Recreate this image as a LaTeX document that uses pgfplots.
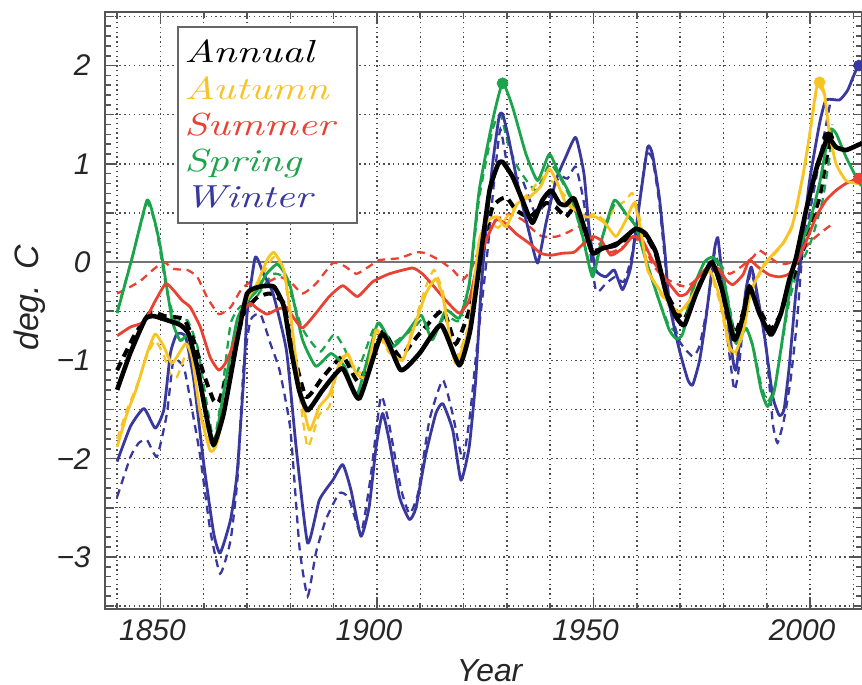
\documentclass[border=0pt]{standalone}
\usepackage{pgfplots}
\pgfplotsset{compat=1.18}
\usepackage{fontspec}
\newfontfamily\tickfont{Liberation Sans}
\newfontfamily\legfont{lmroman10-italic}[Extension=.otf, FakeStretch=1.3]

\definecolor{cAut}{RGB}{248,196,36}
\definecolor{cSum}{RGB}{234,66,50}
\definecolor{cSpr}{RGB}{28,164,76}
\definecolor{cWin}{RGB}{56,56,158}
\definecolor{frame}{RGB}{85,85,85}

\pgfplotsset{
  solidc/.style={line width=1.4bp, line join=round, smooth, tension=0.3},
  dashc/.style={line width=1.15bp, dash pattern=on 4bp off 2.8bp, smooth, tension=0.3},
}

\begin{document}
\begin{tikzpicture}
\useasboundingbox (-52.5bp,-38bp) rectangle (378.5bp,304.5bp);
\begin{axis}[
  at={(0,0)}, anchor=south west,
  scale only axis, width=378.5bp, height=298.5bp,
  xmin=1837.2, xmax=2012, ymin=-3.53, ymax=2.545,
  axis line style={draw=frame, line width=1bp},
  tick style={draw=frame, line width=0.8bp},
  major tick length=6bp, minor tick length=3bp,
  xtick={1850,1900,1950,2000},
  xticklabels={1850,1900,1950,2000},
  minor xtick={1840,1860,1870,1880,1890,1910,1920,1930,1940,1960,1970,1980,1990,2010},
  ytick={-3,-2,-1,0,1,2},
  yticklabels={−3,−2,−1,0,1,2},
  minor ytick={-3.5,-3.4,...,2.5},
  extra y ticks={-3.5,-2.5,-1.5,-0.5,0.5,1.5,2.5},
  extra y tick labels={},
  extra y tick style={grid=major, major tick length=4.5bp},
  xmajorgrids, xminorgrids, ymajorgrids,
  major grid style={draw=black!70, line width=0.7bp, dash pattern=on 0.7bp off 1.7bp},
  minor grid style={draw=black!70, line width=0.7bp, dash pattern=on 0.7bp off 1.7bp},
  tick label style={font=\tickfont\itshape\fontsize{15}{15}\selectfont, inner sep=0pt, text=black!85},
  xticklabel style={anchor=base, yshift=-15.5bp, xshift=-4bp},
  yticklabel style={anchor=east, xshift=-7bp},
  xlabel={Year}, ylabel={deg.\hspace{0.45em}C},
  every axis x label/.style={at={(axis description cs:0.508,0)}, anchor=base, yshift=-36bp,
    font=\tickfont\itshape\fontsize{16}{16}\selectfont, text=black!85},
  every axis y label/.style={at={(axis description cs:-0.0885,0.521)}, rotate=90, anchor=base,
    font=\tickfont\itshape\fontsize{17}{17}\selectfont, text=black!85},
]

% reference line at zero
\addplot[draw=black!55, line width=1.1bp, forget plot] coordinates {(1837.2,0) (2012,0)};

% ---------- second estimate (dashed) ----------
\addplot[cWin, dashc] coordinates {
(1840,-2.39)(1843.1,-1.98)(1845,-1.84)(1846.9,-1.81)(1849.2,-1.98)(1851.5,-1.54)(1853,-1.0)(1855.4,-1.07)(1857.3,-1.50)(1859.2,-1.98)(1861.5,-2.73)(1863.8,-3.17)(1866.2,-2.83)(1867.8,-2.20)(1869.2,-1.07)(1870.8,-0.59)(1873.1,-0.53)(1875.4,-0.83)(1877.5,-1.10)(1880,-1.70)(1882.1,-2.90)(1884,-3.40)(1885.9,-2.96)(1888.2,-2.62)(1891.3,-2.35)(1893.5,-2.40)(1896.3,-2.76)(1898.5,-2.20)(1900.9,-1.37)(1902.8,-1.65)(1905.5,-2.30)(1907.5,-2.56)(1909.5,-2.35)(1912.1,-1.61)(1915.2,-1.20)(1917.5,-1.55)(1919.8,-2.01)(1921.5,-1.55)(1923,-0.9)(1925.5,0.1)(1927,0.8)(1928.5,1.35)(1930.5,0.90)(1933.6,0.83)(1936.5,0.50)(1939,0.60)(1942.1,0.87)(1944,0.85)(1945.9,0.97)(1947.8,0.60)(1950.5,-0.28)(1952.8,-0.22)(1955,-0.15)(1957,-0.20)(1959,0.10)(1962.1,1.07)(1963.6,1.05)(1965.2,0.60)(1967.5,-0.40)(1969.8,-0.80)(1972.9,-0.96)(1974.5,-0.85)(1976.5,-0.40)(1978,0.10)(1979.5,-0.20)(1981,-0.80)(1982.5,-1.30)(1983.5,-1.10)(1985.2,-0.35)(1986.4,-0.10)(1987.8,-0.35)(1989.8,-0.85)(1991.4,-1.64)(1992.5,-1.84)(1994,-1.60)(1995.5,-1.20)(1997,-0.60)(1998.3,0.12)(2000.6,0.66)(2002.9,1.21)(2004.8,1.65)};
\addplot[cSpr, dashc] coordinates {
(1840,-0.50)(1843.5,0.05)(1846.9,0.60)(1849,0.35)(1851.5,-0.30)(1853.5,-0.60)(1856.2,-0.59)(1858.5,-0.85)(1860,-1.25)(1862.3,-1.81)(1864,-1.40)(1866.2,-0.63)(1868.5,-0.45)(1870.8,-0.45)(1873,-0.30)(1876,-0.12)(1878.5,-0.15)(1880,-0.30)(1882.5,-0.65)(1884.4,-0.79)(1887,-0.91)(1890.2,-0.73)(1892.5,-0.88)(1895.2,-1.13)(1899,-0.70)(1900.5,-0.63)(1903.6,-0.82)(1906,-0.75)(1908.2,-0.69)(1910.5,-0.58)(1912.8,-0.72)(1915.9,-0.55)(1919,-0.60)(1921.3,-0.25)(1923.6,0.65)(1926.7,1.35)(1928.5,1.50)(1930.5,1.17)(1932.8,0.94)(1936.7,0.73)(1939.8,1.0)(1942,0.88)(1945.2,0.60)(1947.5,0.25)(1949.8,-0.10)(1952,0.25)(1955,0.60)(1957.5,0.50)(1959.8,0.38)(1962.1,0.02)(1965.2,-0.40)(1967.5,-0.65)(1969.5,-0.72)(1971,-0.68)(1973,-0.28)(1975.6,0.00)(1977.5,0.04)(1979.5,-0.08)(1981.4,-0.45)(1982.9,-0.78)(1985.2,-0.68)(1986.8,-0.85)(1988.7,-1.25)(1990.2,-1.42)(1991.8,-1.28)(1993.7,-0.78)(1995.2,-0.40)(1997,-0.10)(1999.1,0.09)(2000.6,0.26)(2002.9,0.63)(2004.5,1.07)(2005.2,1.40)};
\addplot[cSum, dashc] coordinates {
(1840,-0.32)(1843.1,-0.25)(1845.4,-0.19)(1848.5,-0.07)(1850.8,0.00)(1853.1,-0.07)(1856.2,-0.08)(1858.5,-0.15)(1860.8,-0.36)(1863.5,-0.53)(1866.2,-0.46)(1868.5,-0.29)(1870.8,-0.20)(1873,-0.24)(1875.4,-0.19)(1877.5,-0.15)(1880,-0.20)(1882.8,-0.32)(1885.9,-0.22)(1889.8,-0.01)(1892.5,-0.04)(1895.2,-0.12)(1898,-0.05)(1900.5,0.02)(1905.2,0.04)(1909,0.10)(1911.3,0.09)(1914.4,0.02)(1917.5,-0.08)(1919.8,-0.18)(1922,-0.05)(1925.2,0.33)(1927.5,0.43)(1930.5,0.49)(1933.6,0.43)(1936,0.33)(1938.2,0.26)(1941.5,0.26)(1944.4,0.31)(1946.7,0.36)(1949,0.25)(1951.5,0.18)(1954,0.10)(1957,0.16)(1959,0.25)(1961.5,0.18)(1963.6,-0.02)(1966,-0.15)(1969.1,-0.22)(1971.5,-0.25)(1974.5,-0.15)(1977.5,0.02)(1979,-0.02)(1981.4,-0.12)(1984,-0.05)(1986.8,0.05)(1988.3,0.12)(1990.6,0.05)(1993,-0.02)(1995.2,-0.01)(1997,0.05)(1999.1,0.16)(2001.4,0.26)(2003.7,0.34)(2005.2,0.39)};
\addplot[cAut, dashc] coordinates {
(1840,-1.80)(1842.3,-1.50)(1844.6,-1.25)(1846.9,-0.95)(1848.8,-0.80)(1850.8,-0.95)(1852.3,-1.14)(1853.8,-1.17)(1855.8,-0.95)(1857.3,-1.05)(1859.2,-1.50)(1861.5,-1.85)(1863,-1.80)(1866,-1.20)(1869.2,-0.50)(1872.3,-0.25)(1874.6,-0.05)(1876.2,0.05)(1878.5,-0.12)(1880,-0.55)(1882.1,-1.35)(1884,-1.88)(1886.7,-1.55)(1889,-1.47)(1891.3,-1.00)(1893.2,-0.95)(1895.2,-1.10)(1897.5,-1.12)(1899.8,-0.72)(1902.8,-0.92)(1905.9,-0.98)(1908.6,-0.62)(1911.3,-0.25)(1913.2,-0.08)(1915.2,-0.30)(1916.7,-0.70)(1918.2,-0.98)(1921.3,-0.62)(1923.6,0.20)(1926,0.40)(1928,0.35)(1930.5,0.49)(1933,0.63)(1935.2,0.70)(1938.2,0.87)(1941,0.80)(1943.6,0.66)(1946.7,0.46)(1950.5,0.49)(1952.8,0.42)(1955,0.55)(1957.5,0.63)(1959,0.70)(1960.9,0.40)(1962.5,-0.05)(1965.2,-0.30)(1967.5,-0.45)(1969.8,-0.55)(1972,-0.42)(1974.5,-0.20)(1976.8,-0.10)(1979.1,-0.40)(1981.4,-0.90)(1982.9,-0.95)(1984.8,-0.68)(1986,-0.38)(1987.5,-0.20)(1989.8,-0.02)(1993.7,0.18)(1996,0.37)(1998.3,0.85)(1999.8,1.25)(2001.4,1.72)(2002.2,1.78)(2003.3,1.70)(2004.5,1.30)};
\addplot[black, dashc, line width=2bp, dash pattern=on 4.5bp off 3bp] coordinates {
(1840,-1.10)(1843.8,-0.76)(1847.7,-0.51)(1851,-0.55)(1855.4,-0.58)(1857.7,-0.80)(1860,-1.14)(1862.3,-1.41)(1863.5,-1.42)(1866.2,-1.03)(1869.2,-0.53)(1872.3,-0.36)(1875.4,-0.32)(1878.5,-0.42)(1880,-0.79)(1883.6,-1.37)(1887.5,-1.17)(1892.1,-0.96)(1895.9,-1.22)(1901.3,-0.71)(1905.2,-0.96)(1909.8,-0.73)(1915.2,-0.49)(1918.2,-0.83)(1921.3,-0.49)(1923.5,0.00)(1926.7,0.56)(1929.8,0.66)(1932.1,0.53)(1935.2,0.46)(1939,0.60)(1941.3,0.56)(1943.6,0.46)(1945.5,0.55)(1947.8,0.36)(1949.8,0.12)(1953,0.15)(1957,0.22)(1960,0.28)(1962,0.27)(1964.4,0.08)(1966.8,-0.30)(1969.1,-0.50)(1971,-0.58)(1973.7,-0.30)(1977.2,-0.02)(1979.5,-0.25)(1982.5,-0.72)(1984.5,-0.52)(1986,-0.25)(1988.3,-0.48)(1991,-0.68)(1993.3,-0.52)(1995.2,-0.25)(1997.5,-0.01)(1999.8,0.33)(2002.2,0.66)(2003.7,1.04)(2004.8,1.24)};

% ---------- main estimate (solid) ----------
\addplot[cWin, solidc] coordinates {
(1840,-2.03)(1843.1,-1.67)(1846.2,-1.49)(1848.8,-1.69)(1850.8,-1.50)(1852.3,-0.93)(1853.8,-0.73)(1855.8,-0.76)(1857.7,-1.20)(1860,-2.05)(1862.3,-2.76)(1863.8,-2.96)(1866.2,-2.62)(1867.7,-2.15)(1869.2,-1.20)(1870,-0.53)(1871.9,0.05)(1873.8,-0.12)(1876,-0.32)(1879.1,-0.90)(1881.4,-1.91)(1884,-2.86)(1886.7,-2.42)(1889.8,-2.22)(1892.1,-2.06)(1894,-2.32)(1896.3,-2.79)(1898.2,-2.49)(1899.8,-1.88)(1901.3,-1.54)(1902.8,-1.81)(1905.2,-2.39)(1907.5,-2.62)(1909,-2.50)(1911.3,-1.95)(1913.6,-1.54)(1915.2,-1.44)(1917.5,-1.71)(1919.4,-2.22)(1921.3,-1.88)(1922.8,-1.20)(1924,-0.30)(1925.2,0.33)(1926.7,1.00)(1928.2,1.48)(1929,1.51)(1930.5,1.24)(1932.8,0.73)(1935.2,0.29)(1937.1,-0.01)(1939,0.39)(1941.3,0.83)(1943.6,1.07)(1945.9,1.27)(1947.8,0.90)(1949,0.33)(1950.5,-0.08)(1952.8,-0.15)(1954.8,-0.08)(1956.7,-0.28)(1958.6,-0.05)(1960.5,0.56)(1962.5,1.17)(1963.6,1.10)(1965.2,0.66)(1966.5,0.10)(1967.5,-0.42)(1969.8,-0.89)(1971.8,-1.20)(1972.9,-1.25)(1974.5,-1.00)(1976,-0.56)(1977.9,0.12)(1978.7,0.25)(1979.5,-0.05)(1980.6,-0.39)(1982.2,-1.00)(1982.9,-1.10)(1983.8,-0.80)(1985.2,-0.28)(1986.4,-0.05)(1987.5,-0.25)(1989.5,-0.76)(1991.4,-1.37)(1992.9,-1.56)(1994,-1.50)(1995.2,-1.06)(1996.8,-0.28)(1997.9,0.05)(1999.8,0.80)(2002.2,1.41)(2003.7,1.65)(2006.8,1.65)(2008.7,1.75)(2010.6,1.95)(2012,2.00)};
\addplot[cSpr, solidc] coordinates {
(1840,-0.52)(1843.5,0.05)(1846.9,0.63)(1848.5,0.45)(1850,0.15)(1852.7,-0.59)(1854.6,-0.80)(1856.5,-0.73)(1858,-0.95)(1860,-1.45)(1862.3,-1.88)(1864.5,-1.35)(1867.7,-0.59)(1870,-0.40)(1872.3,-0.29)(1874.5,-0.12)(1876.9,-0.02)(1878.5,-0.10)(1880,-0.25)(1882.8,-0.79)(1885.9,-1.06)(1889.4,-0.93)(1892.5,-1.06)(1895.5,-1.34)(1900.2,-0.62)(1903.6,-0.86)(1906.7,-0.73)(1910.2,-0.54)(1912.8,-0.79)(1915.9,-0.49)(1919,-0.57)(1921.3,-0.22)(1923.6,0.73)(1926.7,1.44)(1929,1.82)(1931.3,1.58)(1934.4,1.10)(1937.1,0.83)(1939.8,1.10)(1942,0.90)(1945.2,0.63)(1947.5,0.26)(1949.8,-0.15)(1952.1,0.26)(1954.8,0.63)(1957.5,0.49)(1959.8,0.36)(1962.1,0.02)(1965.2,-0.40)(1967.5,-0.69)(1969.1,-0.78)(1970.6,-0.73)(1972.9,-0.28)(1975.6,0.00)(1977.5,0.05)(1979.5,-0.05)(1981.4,-0.49)(1982.9,-0.83)(1985.2,-0.67)(1986.8,-0.86)(1988.7,-1.30)(1990.2,-1.47)(1991.8,-1.30)(1993.7,-0.76)(1995.2,-0.32)(1996.8,0.05)(1999.8,0.39)(2002.2,0.80)(2004.5,1.34)(2006,1.31)(2008.3,1.07)(2011.4,0.80)(2012,0.78)};
\addplot[cSum, solidc] coordinates {
(1840,-0.75)(1843.1,-0.66)(1846.2,-0.61)(1848.5,-0.42)(1851.2,-0.22)(1853.1,-0.29)(1855,-0.39)(1856.9,-0.46)(1859.2,-0.66)(1861.5,-0.97)(1863.5,-1.10)(1865.4,-1.00)(1867.7,-0.73)(1869.2,-0.49)(1870.8,-0.42)(1872.3,-0.47)(1874.6,-0.53)(1877,-0.48)(1879.2,-0.46)(1880.5,-0.55)(1882.8,-0.67)(1885.9,-0.52)(1889,-0.35)(1892.1,-0.24)(1895.5,-0.35)(1899,-0.20)(1902.8,-0.12)(1908.2,-0.06)(1910.5,-0.12)(1912.8,-0.23)(1915.9,-0.39)(1919,-0.52)(1921.3,-0.39)(1922.8,-0.10)(1925.2,0.22)(1927.5,0.43)(1929.8,0.39)(1932.1,0.29)(1935.2,0.19)(1937.8,0.09)(1940.2,0.07)(1942.8,0.09)(1945.5,0.10)(1947.5,0.18)(1949.8,0.26)(1951.8,0.22)(1954,0.07)(1956.7,0.14)(1959,0.26)(1961.3,0.22)(1963.6,0.02)(1965.2,-0.08)(1967.5,-0.22)(1969.8,-0.34)(1971.5,-0.32)(1973.7,-0.18)(1976.4,-0.05)(1978.7,-0.06)(1980.6,-0.18)(1982.2,-0.23)(1984.5,-0.13)(1986,0.02)(1988,-0.05)(1990.6,-0.13)(1992.9,-0.15)(1995.2,-0.12)(1997.2,0.02)(1999,0.20)(2001.4,0.46)(2003.7,0.63)(2006,0.73)(2008.3,0.80)(2011,0.85)(2012,0.86)};
\addplot[cAut, solidc] coordinates {
(1840,-1.88)(1842.3,-1.54)(1844.6,-1.27)(1846.9,-0.93)(1848.8,-0.73)(1850.8,-0.86)(1852.7,-1.03)(1855.8,-0.83)(1857.3,-0.97)(1859.2,-1.54)(1861.5,-1.92)(1863,-1.85)(1866,-1.25)(1869.2,-0.46)(1872.3,-0.22)(1874.6,0.02)(1876.2,0.10)(1878.5,-0.08)(1880,-0.52)(1882.1,-1.27)(1884.4,-1.71)(1886.7,-1.47)(1889,-1.35)(1891.3,-1.06)(1893.2,-0.93)(1895.2,-1.13)(1897.5,-1.17)(1899.8,-0.69)(1902.8,-0.89)(1905.9,-1.00)(1908.6,-0.66)(1911.3,-0.32)(1913.6,-0.17)(1915.2,-0.35)(1916.7,-0.73)(1918.2,-1.03)(1921.3,-0.66)(1923.6,0.22)(1925.9,0.43)(1927.8,0.46)(1929.8,0.36)(1932.5,0.60)(1935.2,0.66)(1937.8,0.77)(1939.8,0.95)(1941.7,0.80)(1943.6,0.60)(1945.9,0.53)(1948.2,0.46)(1950.5,0.46)(1952.8,0.39)(1955.2,0.26)(1957.5,0.43)(1959.4,0.60)(1960.9,0.33)(1962.5,-0.08)(1965.2,-0.28)(1967.5,-0.42)(1969.8,-0.51)(1972,-0.40)(1974.5,-0.22)(1976.8,-0.08)(1979.1,-0.35)(1981.4,-0.86)(1982.9,-0.91)(1984.8,-0.66)(1986,-0.35)(1987.5,-0.18)(1989.8,0.00)(1993.7,0.19)(1996,0.39)(1998.3,0.87)(1999.8,1.27)(2001.4,1.75)(2002.2,1.83)(2003.3,1.72)(2004.5,1.31)(2006,1.00)(2008.3,0.83)(2011,0.80)(2012,0.82)};
\addplot[black, solidc, line width=2.3bp] coordinates {
(1840,-1.30)(1843,-0.93)(1846.5,-0.58)(1848.5,-0.55)(1851.5,-0.59)(1854.6,-0.64)(1856.5,-0.73)(1858.5,-1.07)(1860.8,-1.61)(1862.3,-1.86)(1864.6,-1.54)(1867.7,-0.80)(1870,-0.32)(1873,-0.25)(1876.2,-0.25)(1878.5,-0.45)(1880,-0.85)(1882,-1.30)(1884,-1.51)(1887.5,-1.30)(1892,-1.08)(1895.9,-1.39)(1901.2,-0.73)(1905.5,-1.10)(1909.8,-0.93)(1914.8,-0.64)(1919,-1.05)(1921.5,-0.70)(1923.6,-0.05)(1926,0.73)(1928,1.00)(1929,1.02)(1931.3,0.87)(1933.6,0.63)(1935.9,0.40)(1938.2,0.63)(1940.2,0.73)(1942.1,0.60)(1943.6,0.58)(1945.5,0.65)(1947.8,0.36)(1949.8,0.09)(1952,0.14)(1955,0.17)(1957.5,0.26)(1959.8,0.34)(1962,0.29)(1964.4,0.10)(1966.8,-0.32)(1969.1,-0.56)(1971,-0.64)(1973.7,-0.32)(1977.2,0.00)(1979.5,-0.25)(1982.5,-0.79)(1984.5,-0.56)(1986,-0.25)(1988.3,-0.52)(1991,-0.74)(1993.3,-0.52)(1995.2,-0.18)(1996.8,0.05)(1999.1,0.53)(2001.4,0.94)(2002.9,1.14)(2004.2,1.27)(2006,1.17)(2008.3,1.14)(2011,1.19)(2012,1.21)};

% peak markers
\addplot[only marks, mark=*, mark size=2.7bp, cSpr] coordinates {(1929,1.82)};
\addplot[only marks, mark=*, mark size=2.7bp, cAut] coordinates {(2002.2,1.83)};
\addplot[only marks, mark=*, mark size=2.7bp, black] coordinates {(2004.2,1.27)};
\addplot[only marks, mark=*, mark size=2.7bp, cWin] coordinates {(2011.3,2.00)};
\addplot[only marks, mark=*, mark size=2.7bp, cSum] coordinates {(2011.3,0.85)};

% season key
\draw[draw=black!60, line width=0.9bp, fill=white] (rel axis cs:0.0964,0.647) rectangle (rel axis cs:0.333,0.975);
\begin{scope}[every node/.style={anchor=base west, inner sep=0pt, font=\legfont\fontsize{16}{16}\selectfont}]
\node[text=black] at (rel axis cs:0.1044,0.9146) {Annual};
\node[text=cAut]  at (rel axis cs:0.1044,0.8539) {Autumn};
\node[text=cSum]  at (rel axis cs:0.1044,0.7933) {Summer};
\node[text=cSpr]  at (rel axis cs:0.1044,0.7327) {Spring};
\node[text=cWin]  at (rel axis cs:0.1044,0.6720) {Winter};
\end{scope}
\end{axis}
\end{tikzpicture}
\end{document}
